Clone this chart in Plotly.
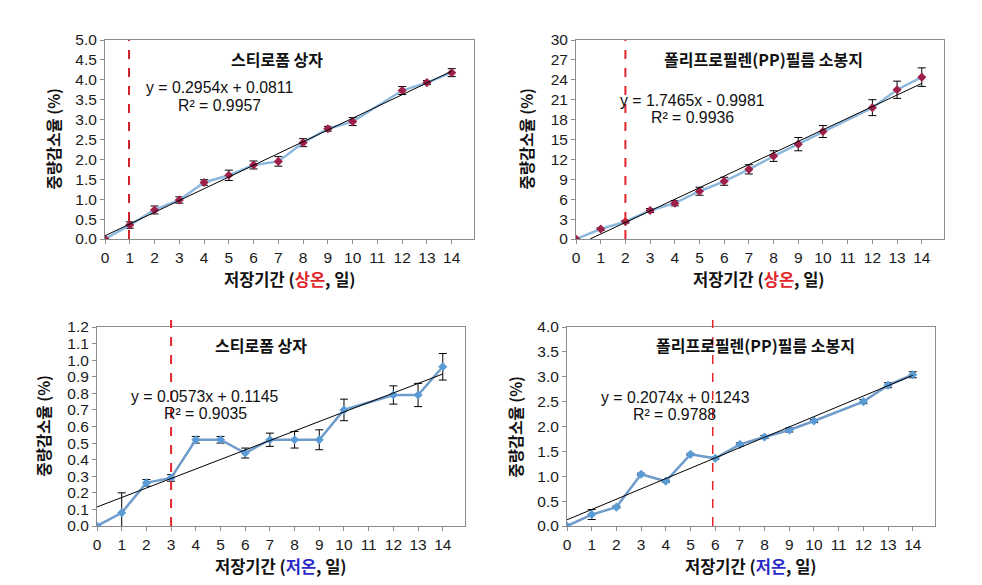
import plotly.graph_objects as go

W, H = 982, 585
OFF = 8  # page body margin offset in the rendered page

# ---------------- data ----------------
days = [0, 1, 2, 3, 4, 5, 6, 7, 8, 9, 10, 12, 13, 14]

room_styro = [0, 0.35, 0.73, 0.98, 1.42, 1.60, 1.86, 1.95, 2.42, 2.77, 2.95, 3.73, 3.93, 4.18]
room_styro_err = [0, 0.08, 0.10, 0.08, 0.07, 0.13, 0.10, 0.12, 0.10, 0.06, 0.10, 0.10, 0.05, 0.10]

room_pp = [0, 1.5, 2.6, 4.3, 5.4, 7.2, 8.7, 10.5, 12.5, 14.3, 16.2, 19.8, 22.5, 24.4]
room_pp_err = [0, 0.2, 0.2, 0.3, 0.4, 0.6, 0.6, 0.7, 0.8, 1.0, 0.9, 1.2, 1.3, 1.4]

cold_styro = [0, 0.08, 0.26, 0.29, 0.52, 0.52, 0.44, 0.52, 0.52, 0.52, 0.70, 0.79, 0.79, 0.96]
cold_styro_err = [0, 0.12, 0.02, 0.02, 0.02, 0.02, 0.03, 0.04, 0.05, 0.06, 0.065, 0.055, 0.07, 0.08]

cold_pp = [0, 0.23, 0.38, 1.04, 0.90, 1.44, 1.36, 1.64, 1.79, 1.93, 2.11, 2.50, 2.83, 3.04]
cold_pp_err = [0, 0.10, 0.02, 0.02, 0.02, 0.02, 0.02, 0.03, 0.03, 0.04, 0.03, 0.04, 0.05, 0.06]

# trendline coefficients (slope, intercept) as printed on the chart
trend_coef = [(0.2954, 0.0811), (1.7465, -0.9981), (0.0573, 0.1145), (0.2074, 0.1243)]
r2_values = ["0.9957", "0.9936", "0.9035", "0.9788"]
eq_texts = ["y = 0.2954x + 0.0811", "y = 1.7465x - 0.9981", "y = 0.0573x + 0.1145", "y = 0.2074x + 0.1243"]
panel_titles = ["스티로폼 상자", "폴리프로필렌(PP)필름 소봉지", "스티로폼 상자", "폴리프로필렌(PP)필름 소봉지"]
marker_days = [0.97, 2, 3, 5.9]

x_ticks = list(range(0, 15))
y_ticks = [
    [0, 0.5, 1.0, 1.5, 2.0, 2.5, 3.0, 3.5, 4.0, 4.5, 5.0],
    [0, 3, 6, 9, 12, 15, 18, 21, 24, 27, 30],
    [0, 0.1, 0.2, 0.3, 0.4, 0.5, 0.6, 0.7, 0.8, 0.9, 1.0, 1.1, 1.2],
    [0, 0.5, 1.0, 1.5, 2.0, 2.5, 3.0, 3.5, 4.0],
]
y_ranges = [[0, 5.0], [0, 30], [0, 1.2], [0, 4.0]]
y_formats = [".1f", "d", ".1f", ".1f"]

# ---------------- layout geometry (pixels, page coordinates) ----------------
boxes = [  # left, right, top, bottom
    (105, 474, 40, 239),
    (576, 944, 40, 239),
    (97, 465, 327, 526),
    (567, 935, 327, 526),
]

def fx(x):
    return (x - OFF) / W

def fy(y):
    return 1 - (y - OFF) / H

series = [
    (days, room_styro, room_styro_err, "#9E1F4A", "#8DB8DE"),
    (days, room_pp, room_pp_err, "#9E1F4A", "#8DB8DE"),
    (days, cold_styro, cold_styro_err, "#5B9BD5", "#6F9CCB"),
    (days, cold_pp, cold_pp_err, "#5B9BD5", "#6F9CCB"),
]

fig = go.Figure()
KFONT = "Noto Sans CJK KR"
NFONT = "Liberation Sans, Arial"

layout = dict(
    width=W, height=H, margin=dict(l=0, r=0, t=0, b=0, pad=0, autoexpand=False),
    paper_bgcolor="white", plot_bgcolor="white", showlegend=False,
)

shapes = []
annotations = []

for i, (xs, ys, es, mcol, lcol) in enumerate(series):
    n = "" if i == 0 else str(i + 1)
    xa, ya = "x" + n, "y" + n
    l, r, t, b = boxes[i]
    layout["xaxis" + n] = dict(
        domain=[fx(l), fx(r)], range=[0, 14.9], anchor=ya, automargin=False,
        tickmode="array", tickvals=x_ticks, ticktext=[str(v) for v in x_ticks],
        ticks="outside", ticklen=4, tickcolor="#8c8c8c",
        showline=True, linecolor="#8c8c8c", linewidth=1, mirror=True,
        showgrid=False, zeroline=False,
        tickfont=dict(family=NFONT, size=15.5, color="#1a1a1a"),
    )
    layout["yaxis" + n] = dict(
        domain=[fy(b), fy(t)], range=y_ranges[i], anchor=xa, automargin=False,
        tickmode="array", tickvals=y_ticks[i], tickformat=y_formats[i],
        ticks="outside", ticklen=4, tickcolor="#8c8c8c",
        showline=True, linecolor="#8c8c8c", linewidth=1, mirror=True,
        showgrid=False, zeroline=False,
        tickfont=dict(family=NFONT, size=15.5, color="#1a1a1a"),
    )
    # data series
    fig.add_trace(go.Scatter(
        x=xs, y=ys, xaxis=xa, yaxis=ya, mode="lines+markers",
        line=dict(color=lcol, width=2.5),
        marker=dict(symbol="diamond", size=7, color=mcol),
        error_y=dict(type="data", array=es, visible=True, color="black", thickness=1, width=4),
    ))
    # trendline (from the printed equation), starting where it enters the plot
    s, c = trend_coef[i]
    tx = [max(0.0, -c / s), 14]
    fig.add_trace(go.Scatter(
        x=tx, y=[s * v + c for v in tx], xaxis=xa, yaxis=ya, mode="lines",
        line=dict(color="black", width=1),
    ))
    # vertical dashed marker line
    top_ext = 1.0 if i < 2 else 1.035
    shapes.append(dict(
        type="line", xref=xa, yref=ya + " domain", x0=marker_days[i], x1=marker_days[i],
        y0=0, y1=top_ext, layer="above",
        line=dict(color="#E3262B" if i != 0 else "#D0202A", width=2 if i < 3 else 1.5, dash="dash"),
    ))

def ann(xy, text, font, **kw):
    d = dict(x=fx(xy[0]), y=fy(xy[1]), xref="paper", yref="paper", text=text, showarrow=False,
             xanchor="center", yanchor="middle", font=font)
    d.update(kw)
    return d

# panel titles, equations, R²
title_pos = [(277, 59), (763, 59), (261, 345), (755, 345)]
eq_pos = [(219, 88), (692, 100), (204, 396), (675, 397)]
r2_pos = [(219, 106), (692, 117), (205, 413), (674, 414)]
for i in range(4):
    annotations.append(ann(title_pos[i], "<b>" + panel_titles[i] + "</b>",
                           dict(family=KFONT, size=16, color="#111")))
    annotations.append(ann(eq_pos[i], eq_texts[i], dict(family=NFONT, size=15.8, color="#111")))
    annotations.append(ann(r2_pos[i], "R² = " + r2_values[i], dict(family=NFONT, size=15.8, color="#111")))

# axis titles
ytitle_pos = [(52, 139.5), (525, 139.5), (42, 426.5), (514, 426.5)]
xtitle_pos = [(289.5, 279), (759, 279), (281, 566), (751, 566)]
temp_words = [("상온", "#E3262B"), ("상온", "#E3262B"), ("저온", "#2B2BC8"), ("저온", "#2B2BC8")]
for i in range(4):
    annotations.append(ann(ytitle_pos[i], "<b>중량감소율 (%)</b>",
                           dict(family=KFONT, size=15.5, color="#111"), textangle=-90))
    w, col = temp_words[i]
    annotations.append(ann(xtitle_pos[i],
                           "<b>저장기간 (<span style='color:%s'>%s</span>, 일)</b>" % (col, w),
                           dict(family=KFONT, size=16.5, color="#111")))

layout["shapes"] = shapes
layout["annotations"] = annotations
fig.update_layout(**layout)
fig.write_html("out.html")
